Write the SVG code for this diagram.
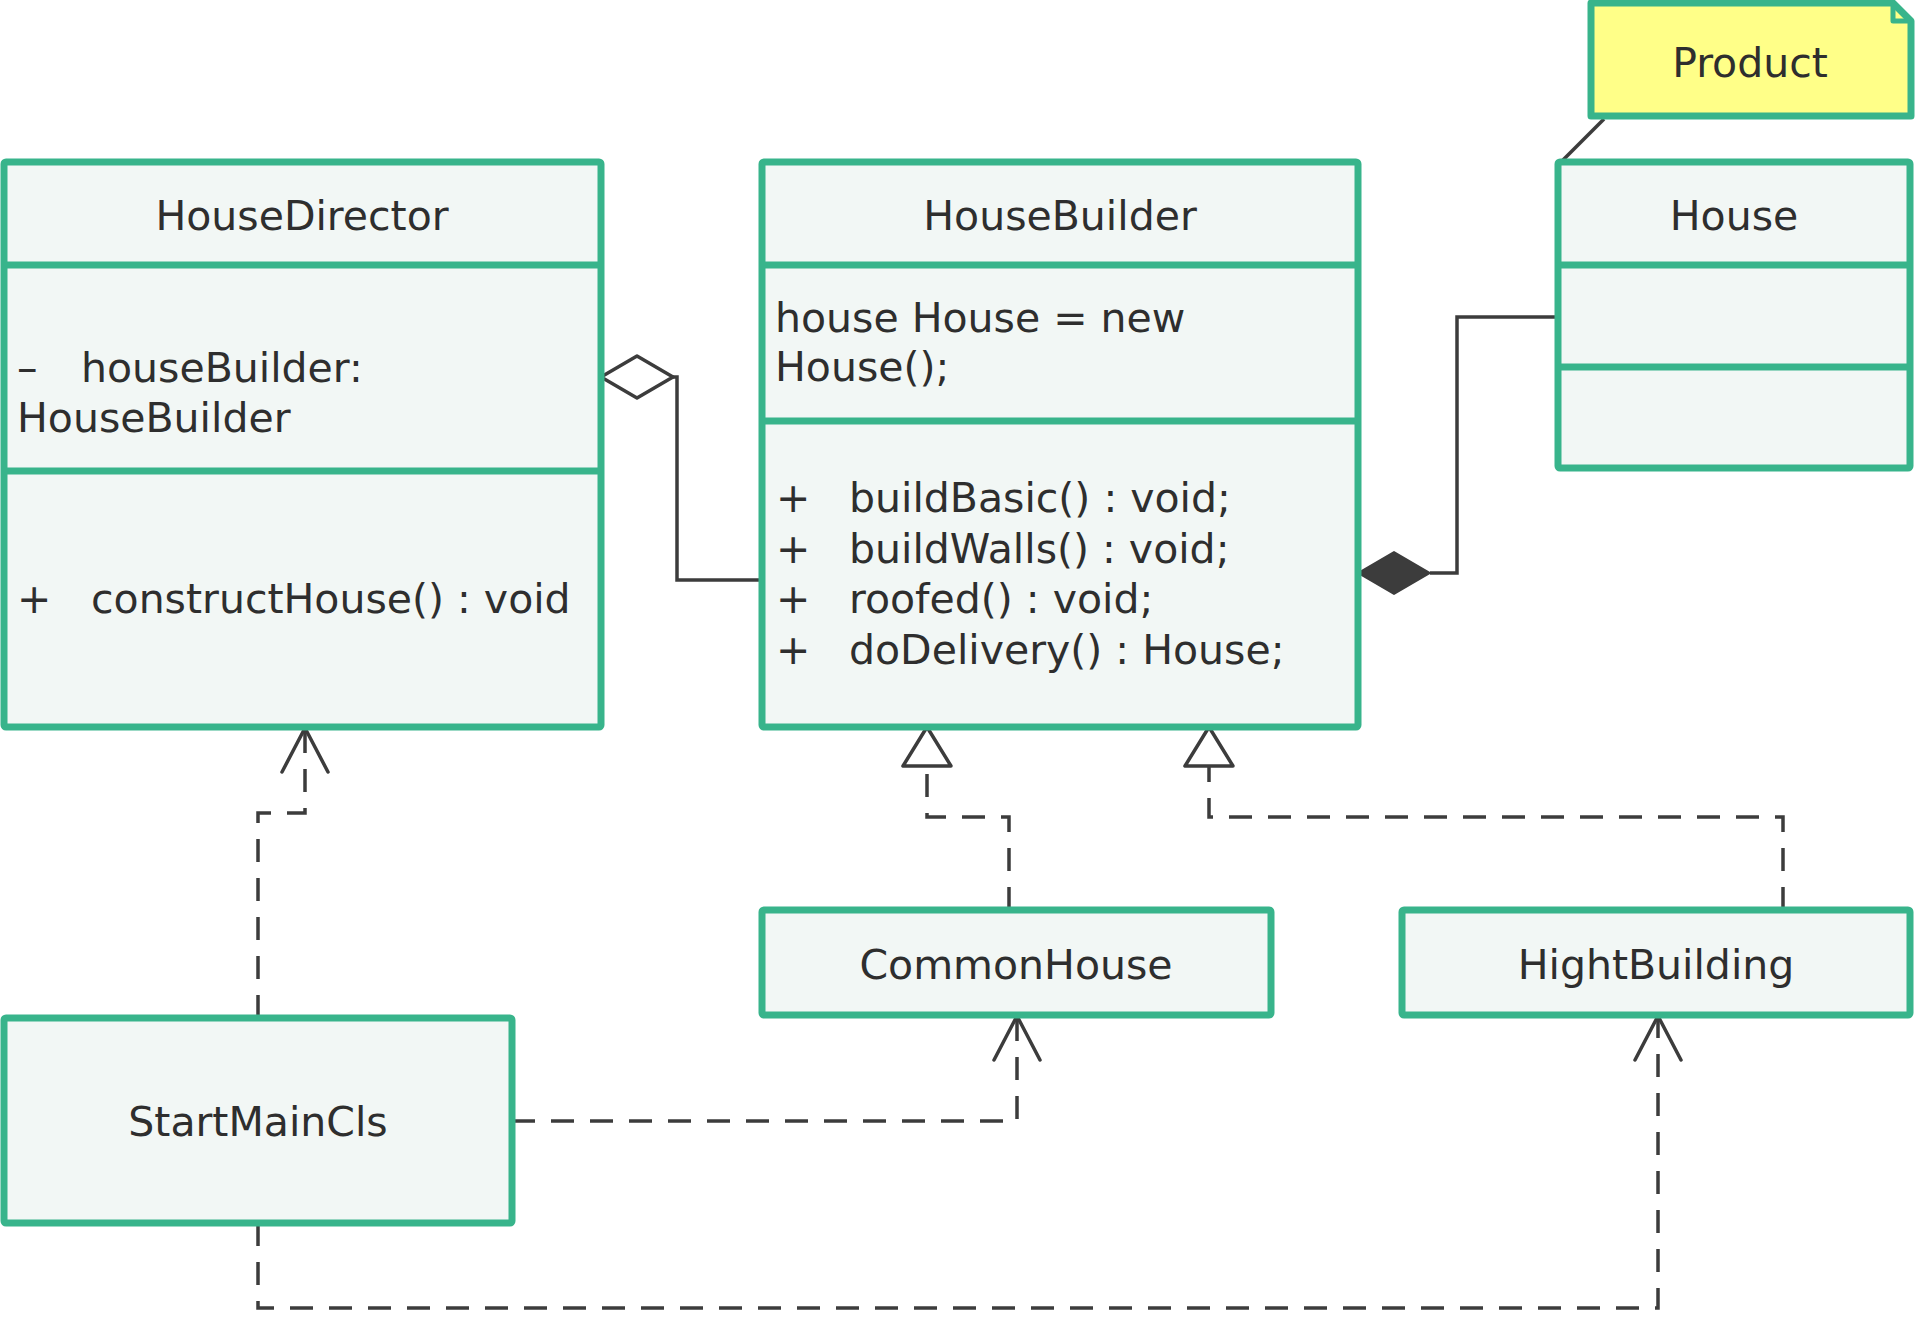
<svg xmlns="http://www.w3.org/2000/svg" width="1916" height="1338" viewBox="0 0 1916 1338">
<style>
.box{fill:#F2F7F5;stroke:#38B48B;stroke-width:7;stroke-linejoin:round}
.div{stroke:#38B48B;stroke-width:7;fill:none}
.note{fill:#FFFF88;stroke:#38B48B;stroke-width:7;stroke-linejoin:round}
.t{font-family:"DejaVu Sans",sans-serif;font-size:41px;fill:#2E2E2E}
.c{text-anchor:middle}
.ln{fill:none;stroke:#3C3C3C;stroke-width:3.5}
.dash{fill:none;stroke:#3C3C3C;stroke-width:3.5;stroke-dasharray:23 16}
.open{fill:none;stroke:#3C3C3C;stroke-width:3.5;stroke-linejoin:round;stroke-linecap:round}
.tri{fill:#FFFFFF;stroke:#3C3C3C;stroke-width:3.5;stroke-linejoin:round}
.dia{fill:#FFFFFF;stroke:#3C3C3C;stroke-width:3.5;stroke-linejoin:round}
.fdia{fill:#3C3C3C;stroke:#3C3C3C;stroke-width:2;stroke-linejoin:round}
</style>
<rect width="1916" height="1338" fill="#FFFFFF"/>

<g id="connectors">
  <polyline class="ln" points="673,377 677,377 677,580 762,580"/>
  <polygon class="dia" points="601,377 637,356 673,377 637,398"/>
  <polyline class="ln" points="1430,573 1457,573 1457,317 1558,317"/>
  <polygon class="fdia" points="1358,573 1394,552 1430,573 1394,594"/>
  <line class="ln" x1="1604" y1="119" x2="1562" y2="161"/>
  <polyline class="dash" points="1009,910 1009,817 927,817 927,766"/>
  <polygon class="tri" points="927,727 903,766 951,766"/>
  <polyline class="dash" points="1783,910 1783,817 1209,817 1209,766"/>
  <polygon class="tri" points="1209,727 1185,766 1233,766"/>
  <polyline class="dash" points="258,1018 258,813 305,813 305,729"/>
  <polyline class="open" points="282,772 305,728 328,772"/>
  <polyline class="dash" points="512,1121 1017,1121 1017,1017"/>
  <polyline class="open" points="994,1060 1017,1016 1040,1060"/>
  <polyline class="dash" points="258,1223 258,1308 1658,1308 1658,1017"/>
  <polyline class="open" points="1635,1060 1658,1016 1681,1060"/>
</g>

<g id="HouseDirector">
  <rect class="box" x="4" y="162" width="597" height="565" rx="2"/>
  <line class="div" x1="4" y1="265" x2="601" y2="265"/>
  <line class="div" x1="4" y1="471" x2="601" y2="471"/>
  <text class="t c" x="302" y="230">HouseDirector</text>
  <text class="t" x="17" y="382">–</text>
  <text class="t" x="81" y="382">houseBuilder:</text>
  <text class="t" x="17" y="432">HouseBuilder</text>
  <text class="t" x="17" y="613">+</text>
  <text class="t" x="91" y="613">constructHouse() : void</text>
</g>

<g id="HouseBuilder">
  <rect class="box" x="762" y="162" width="596" height="565" rx="2"/>
  <line class="div" x1="762" y1="265" x2="1358" y2="265"/>
  <line class="div" x1="762" y1="421" x2="1358" y2="421"/>
  <text class="t c" x="1060" y="230">HouseBuilder</text>
  <text class="t" x="775" y="332">house House = new</text>
  <text class="t" x="775" y="381">House();</text>
  <text class="t" x="776" y="512">+</text>
  <text class="t" x="849" y="512">buildBasic() : void;</text>
  <text class="t" x="776" y="563">+</text>
  <text class="t" x="849" y="563">buildWalls() : void;</text>
  <text class="t" x="776" y="613">+</text>
  <text class="t" x="849" y="613">roofed() : void;</text>
  <text class="t" x="776" y="664">+</text>
  <text class="t" x="849" y="664">doDelivery() : House;</text>
</g>

<g id="House">
  <rect class="box" x="1558" y="162" width="352" height="306" rx="2"/>
  <line class="div" x1="1558" y1="265" x2="1910" y2="265"/>
  <line class="div" x1="1558" y1="367" x2="1910" y2="367"/>
  <text class="t c" x="1734" y="230">House</text>
</g>

<g id="Product">
  <polygon class="note" points="1591,3 1893,3 1911,21 1911,116 1591,116"/>
  <path d="M1893,3 V21 H1911" fill="none" stroke="#38B48B" stroke-width="5" stroke-linejoin="round"/>
  <text class="t c" x="1750" y="77">Product</text>
</g>

<g id="CommonHouse">
  <rect class="box" x="762" y="910" width="509" height="105" rx="2"/>
  <text class="t c" x="1016" y="979">CommonHouse</text>
</g>

<g id="HightBuilding">
  <rect class="box" x="1402" y="910" width="508" height="105" rx="2"/>
  <text class="t c" x="1656" y="979">HightBuilding</text>
</g>

<g id="StartMainCls">
  <rect class="box" x="4" y="1018" width="508" height="205" rx="2"/>
  <text class="t c" x="258" y="1136">StartMainCls</text>
</g>
</svg>
